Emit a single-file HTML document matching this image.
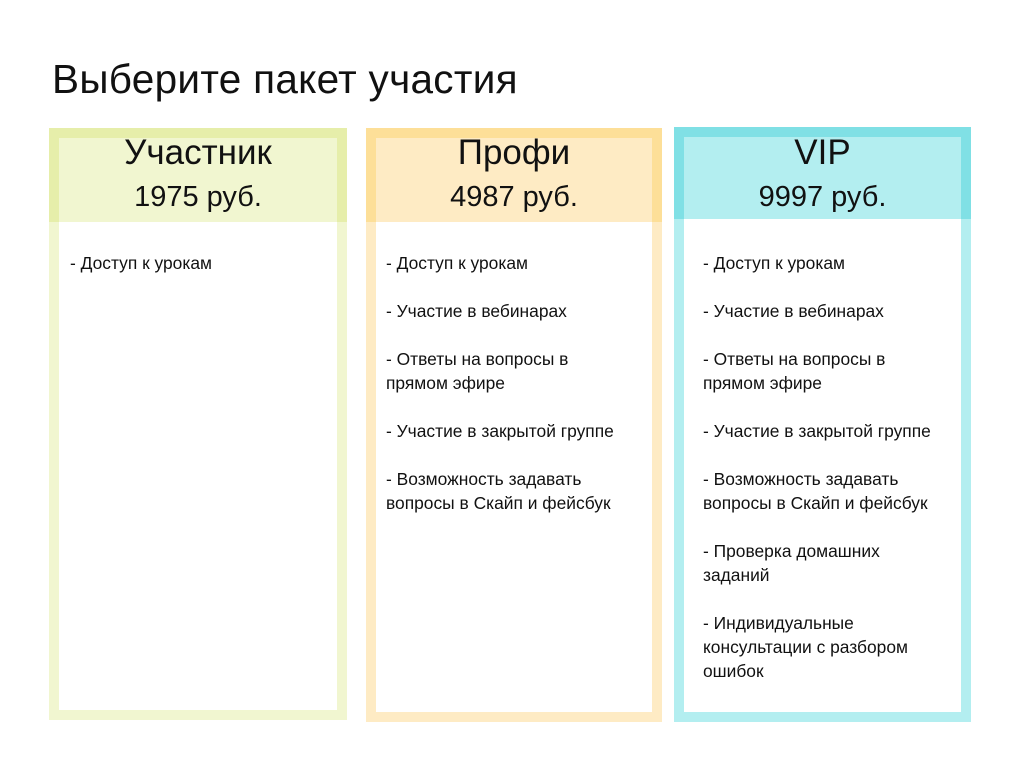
<!DOCTYPE html>
<html><head><meta charset="utf-8"><style>
body{margin:0;width:1024px;height:768px;background:#fff;font-family:"Liberation Sans",sans-serif;position:relative;overflow:hidden;color:#111}
.a{position:absolute}
h1{position:absolute;left:52px;top:56px;margin:0;font-weight:normal;font-size:40.5px;letter-spacing:0.3px}
.name{position:absolute;width:100%;text-align:center;font-size:35px;top:133px}
.price{position:absolute;width:100%;text-align:center;font-size:29px;top:181px}
.items{position:absolute;font-size:17.4px;line-height:24px}
.items p{margin:0 0 24px 0}
</style></head><body>
<h1>Выберите пакет участия</h1>

<div class="a" style="left:49px;top:128px;width:298px;height:592px;background:#f1f6d0"></div>
<div class="a" style="left:59px;top:138px;width:278px;height:572px;background:#fff"></div>
<div class="a" style="left:49px;top:128px;width:298px;height:94px;background:#e6eeaa"></div>
<div class="a" style="left:59px;top:138px;width:278px;height:84px;background:#f1f6d0"></div>
<div class="a" style="left:49px;top:0;width:298px;height:260px"><div class="name">Участник</div><div class="price">1975 руб.</div></div>
<div class="items" style="left:70px;top:251px;width:275px"><p>- Доступ к урокам</p></div>

<div class="a" style="left:366px;top:128px;width:296px;height:594px;background:#feebc4"></div>
<div class="a" style="left:376px;top:138px;width:276px;height:574px;background:#fff"></div>
<div class="a" style="left:366px;top:128px;width:296px;height:94px;background:#fddf98"></div>
<div class="a" style="left:376px;top:138px;width:276px;height:84px;background:#feebc4"></div>
<div class="a" style="left:366px;top:0;width:296px;height:260px"><div class="name">Профи</div><div class="price">4987 руб.</div></div>
<div class="items" style="left:386px;top:251px;width:275px">
<p>- Доступ к урокам</p><p>- Участие в вебинарах</p><p>- Ответы на вопросы в<br>прямом эфире</p><p>- Участие в закрытой группе</p><p>- Возможность задавать<br>вопросы в Скайп и фейсбук</p></div>

<div class="a" style="left:674px;top:127px;width:297px;height:595px;background:#b3eef0"></div>
<div class="a" style="left:684px;top:137px;width:277px;height:575px;background:#fff"></div>
<div class="a" style="left:674px;top:127px;width:297px;height:92px;background:#80e0e5"></div>
<div class="a" style="left:684px;top:137px;width:277px;height:82px;background:#b3eef0"></div>
<div class="a" style="left:674px;top:0;width:297px;height:260px"><div class="name">VIP</div><div class="price">9997 руб.</div></div>
<div class="items" style="left:703px;top:251px;width:275px">
<p>- Доступ к урокам</p><p>- Участие в вебинарах</p><p>- Ответы на вопросы в<br>прямом эфире</p><p>- Участие в закрытой группе</p><p>- Возможность задавать<br>вопросы в Скайп и фейсбук</p><p>- Проверка домашних<br>заданий</p><p>- Индивидуальные<br>консультации с разбором<br>ошибок</p></div>
</body></html>
